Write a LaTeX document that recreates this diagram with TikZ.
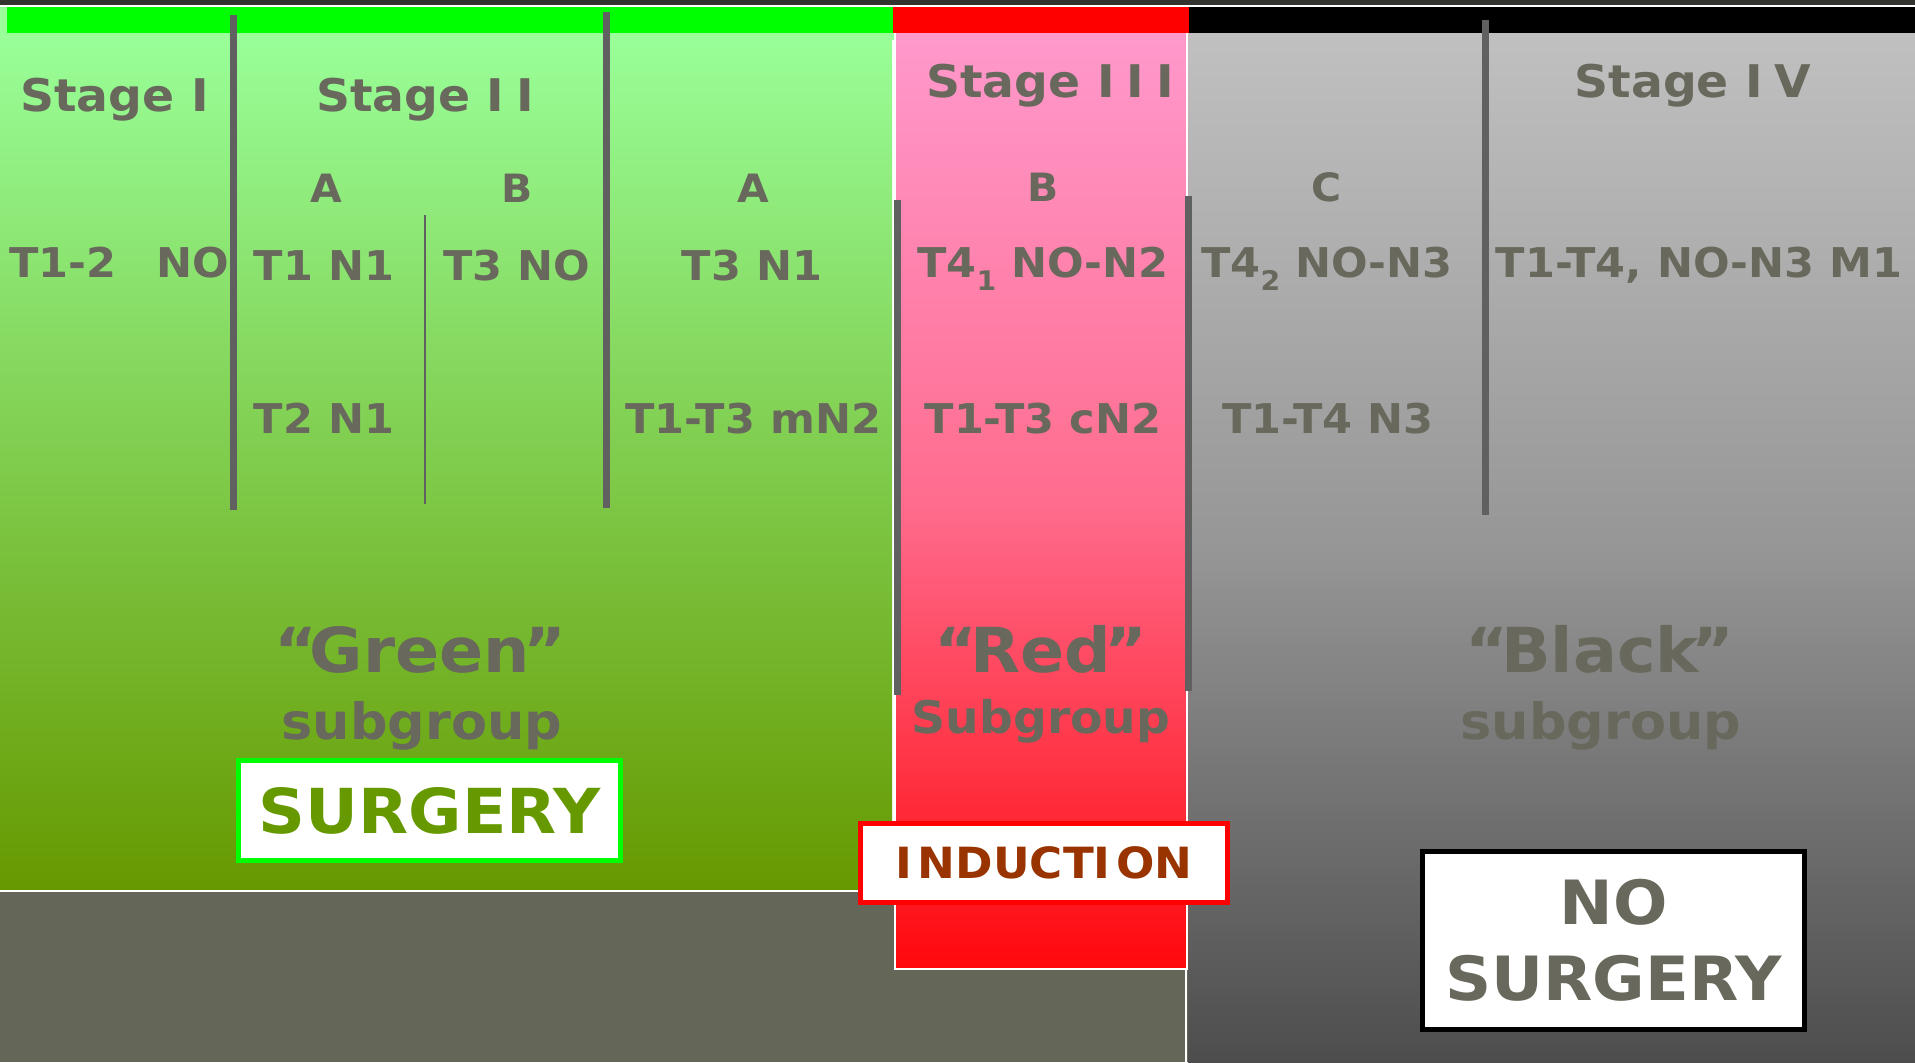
\documentclass[tikz,border=0pt]{standalone}
\usepackage{fontspec}
\setmainfont{DejaVu Sans}[FakeStretch=1.05]
\definecolor{txt}{RGB}{104,104,92}
\definecolor{topband}{RGB}{51,51,48}
\definecolor{gtop}{RGB}{153,255,153}
\definecolor{gbot}{RGB}{102,153,0}
\definecolor{ptop}{RGB}{255,153,204}
\definecolor{pmid}{RGB}{255,108,142}
\definecolor{pbot}{RGB}{255,8,12}
\definecolor{ktop}{RGB}{192,192,192}
\definecolor{kmid}{RGB}{150,150,150}
\definecolor{kbot}{RGB}{77,77,77}
\definecolor{olive}{RGB}{100,102,87}
\definecolor{divc}{RGB}{96,96,96}
\definecolor{surgc}{RGB}{102,153,0}
\definecolor{indc}{RGB}{153,51,0}
\newcommand{\lowsub}[1]{\raisebox{-13bp}{\fontsize{27bp}{27bp}\selectfont #1}}
\newcommand{\myopenq}{“\kern-7bp}
\newcommand{\myclosq}{\kern-7bp”}
\tikzset{
  lbl/.style={text=txt, inner sep=0pt, anchor=base},
  hdr/.style={lbl, font=\bfseries\fontsize{45bp}{54bp}\selectfont},
  sub/.style={lbl, font=\bfseries\fontsize{39bp}{47bp}\selectfont},
  tnm/.style={lbl, font=\bfseries\fontsize{41bp}{49bp}\selectfont},
  grp/.style={lbl, font=\bfseries\fontsize{62bp}{74bp}\selectfont},
  grpsub/.style={lbl, font=\bfseries\fontsize{50bp}{60bp}\selectfont},
  divider/.style={draw=divc, line width=7bp},
  thindiv/.style={draw=divc, line width=2bp},
  whiteline/.style={draw=white, line width=2bp},
  actionbox/.style={fill=white, line width=5bp, inner sep=0pt, align=center}
}
\begin{document}
\begin{tikzpicture}[x=1bp,y=1bp]
\useasboundingbox (0,0) rectangle (1915,-1062);
% background regions
\fill[gtop] (0,0) rectangle (1915,-40);
\fill[topband] (0,0) rectangle (1915,-5);
\fill[white] (0,-5) rectangle (1915,-6.7);
\fill[olive] (0,-880) rectangle (1915,-1062);
\fill[top color=gtop, bottom color=gbot] (0,-33) rectangle (892,-890);
\fill[top color=ktop, bottom color=kbot, middle color=kmid] (1188,-33) rectangle (1915,-1062);
\fill[top color=ptop, bottom color=pbot, middle color=pmid] (895,-33) rectangle (1188,-969);
% top bars
\fill[green] (7,-6.7) rectangle (893,-33);
\fill[red] (893,-6.7) rectangle (1189,-33);
\fill[black] (1189,-6.7) rectangle (1915,-33);
% white edge lines
\draw[whiteline] (894.5,-33) -- (894.5,-969) -- (1187,-969) -- (1187,-33);
\draw[whiteline] (0,-890.5) -- (894.5,-890.5);
\draw[whiteline] (1185.5,-969) -- (1185.5,-1062);
% dividers
\draw[divider] (233,-15) -- (233,-510);
\draw[thindiv] (425,-215) -- (425,-504);
\draw[divider] (606,-12) -- (606,-508);
\draw[divider] (897,-200) -- (897,-695);
\draw[divider] (1188,-196) -- (1188,-691);
\draw[divider] (1485,-20) -- (1485,-515);
% stage headers
\node[hdr] (s1) at (114.5,-111) {Stage I};
\node[hdr] (s2) at (425,-111) {Stage I\kern12bp I};
\node[hdr] (s3) at (1050,-97) {Stage I\kern12bp I\kern12bp I};
\node[hdr] (s4) at (1693,-97) {Stage I\kern12bp V};
% sub letters
\node[sub] (a2) at (326,-202.5) {A};
\node[sub] (b2) at (517,-202.5) {B};
\node[sub] (a3) at (753,-202.5) {A};
\node[sub] (b3) at (1043,-201) {B};
\node[sub] (c3) at (1327,-201) {C};
% TNM rows
\node[tnm, anchor=base west] (t1) at (9,-277) {T1-2\hspace{40bp}NO};
\node[tnm] (t2a1) at (324,-280) {T1 N1};
\node[tnm] (t2b) at (517,-280) {T3 NO};
\node[tnm] (t3a1) at (752,-280) {T3 N1};
\node[tnm] (t2a2) at (324,-433) {T2 N1};
\node[tnm] (t3a2) at (753,-433) {T1-T3 mN2};
\node[tnm] (t3b1) at (1043,-277) {T4\lowsub{1} NO-N2};
\node[tnm] (t3c1) at (1327,-277) {T4\lowsub{2} NO-N3};
\node[tnm] (t4) at (1699,-277) {T1-T4, NO-N3 M1};
\node[tnm] (t3b2) at (1043,-433) {T1-T3 cN2};
\node[tnm] (t3c2) at (1328,-433) {T1-T4 N3};
% subgroup labels
\node[grp] (gg) at (420,-672.5) {\myopenq Green\myclosq};
\node[grpsub] (ggs) at (422,-739) {subgroup};
\node[grp] (rg) at (1041,-672.5) {\myopenq Red\myclosq};
\node[lbl, font=\bfseries\fontsize{45bp}{54bp}\selectfont] (rgs) at (1041,-733) {Subgroup};
\node[grp] (kg) at (1600,-672.5) {\myopenq Black\myclosq};
\node[grpsub] (kgs) at (1601,-739) {subgroup};
% action boxes
\node[actionbox, draw=green, minimum width=382bp, minimum height=100bp, text=surgc,
      font=\bfseries\fontsize{62bp}{74bp}\selectfont] (surg) at (429.5,-810.5) {SURGERY};
\node[actionbox, draw=red, minimum width=367bp, minimum height=79bp, text=indc,
      font=\bfseries\fontsize{43bp}{52bp}\selectfont] (ind) at (1044,-863) {I\kern6bp NDUCTI\kern6bp ON};
\node[actionbox, draw=black, minimum width=382bp, minimum height=178bp, text=txt,
      font=\bfseries\fontsize{61bp}{76bp}\selectfont] (nosurg) at (1613.5,-940.5) {NO\\SURGERY};
\end{tikzpicture}
\end{document}
